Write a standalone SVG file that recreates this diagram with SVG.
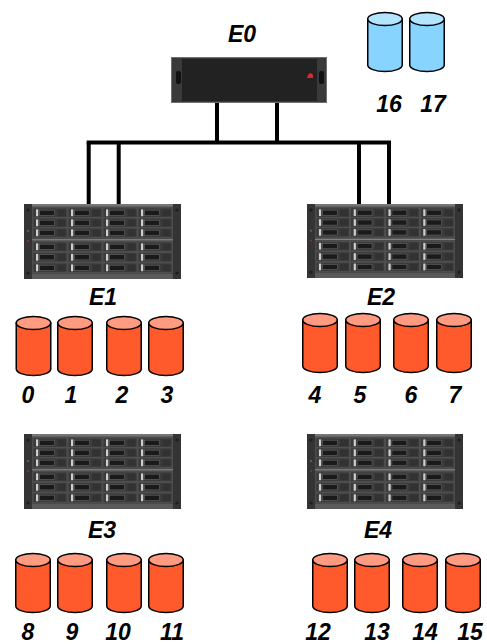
<svg xmlns="http://www.w3.org/2000/svg" width="487" height="644" viewBox="0 0 487 644">
  <style>
    .lbl { font-family: "Liberation Sans", Arial, sans-serif; font-weight: bold; font-style: italic; font-size: 23px; fill: #000; text-anchor: middle; }
    .wire { stroke: #000; stroke-width: 4; fill: none; }
    .cyl { stroke: #000; stroke-width: 1.5; }
  </style>
  <defs>
    <!-- cylinders, 36 x 60 -->
    <g id="cyl-red" class="cyl">
      <path d="M0.75 7 V53 A17.25 6.5 0 0 0 35.25 53 V7 Z" fill="#FF5A2B"/>
      <ellipse cx="18" cy="7" rx="17.25" ry="6.5" fill="#FF9B80"/>
    </g>
    <g id="cyl-blue" class="cyl">
      <path d="M0.75 7 V53 A17.25 6.5 0 0 0 35.25 53 V7 Z" fill="#86D4FF"/>
      <ellipse cx="18" cy="7" rx="17.25" ry="6.5" fill="#B3E5FF"/>
    </g>
    <!-- single drive bay of the disk enclosure -->
    <g id="bay">
      <rect width="34" height="9.5" fill="#3b3b3b" stroke="#565656" stroke-width="0.6"/>
      <rect x="3" y="1.4" width="2.2" height="6.8" fill="#cfcfcf"/>
      <rect x="6.5" y="2.2" width="15" height="5.2" fill="#1a1a1a" stroke="#666" stroke-width="0.6"/>
      <rect x="24.5" y="1.6" width="8" height="6.4" fill="#323232"/>
    </g>
    <g id="bay-row">
      <use href="#bay" x="9"/>
      <use href="#bay" x="44"/>
      <use href="#bay" x="79"/>
      <use href="#bay" x="114"/>
    </g>
    <!-- 4U disk enclosure, 24 bays -->
    <symbol id="enclosure" viewBox="0 0 157 75" preserveAspectRatio="none">
      <rect x="0" y="0" width="157" height="75" fill="#4a4a4a"/>
      <rect x="0" y="0" width="157" height="2.5" fill="#767676"/>
      <rect x="0" y="70" width="157" height="5" fill="#5a5a5a"/>
      <rect x="0" y="0" width="8" height="75" fill="#343434"/>
      <rect x="149" y="0" width="8" height="75" fill="#343434"/>
      <circle cx="4" cy="6" r="1.6" fill="#1e1e1e"/>
      <circle cx="4" cy="69" r="1.6" fill="#1e1e1e"/>
      <circle cx="153" cy="6" r="1.6" fill="#1e1e1e"/>
      <circle cx="153" cy="69" r="1.6" fill="#1e1e1e"/>
      <circle cx="4" cy="27" r="0.9" fill="#4a8a4a"/>
      <circle cx="4" cy="37" r="0.9" fill="#8a3a3a"/>
      <use href="#bay-row" y="4"/>
      <use href="#bay-row" y="14"/>
      <use href="#bay-row" y="24"/>
      <use href="#bay-row" y="38"/>
      <use href="#bay-row" y="48.5"/>
      <use href="#bay-row" y="59"/>
      <line x1="8" y1="35.8" x2="149" y2="35.8" stroke="#8f8f8f" stroke-width="1"/>
    </symbol>
  </defs>

  <rect width="487" height="644" fill="#fff"/>

  <!-- cabling from the head unit to the first two enclosures -->
  <g id="connectors">
    <path class="wire" d="M217 102 V142 M277 102 V142"/>
    <path class="wire" d="M86.7 142.5 H391"/>
    <path class="wire" d="M88.7 142 V204 M118.7 142 V204 M359 142 V204 M389 142 V204"/>
  </g>

  <!-- head unit -->
  <g id="E0">
    <rect x="171" y="57" width="156" height="46" fill="#6f6f6f"/>
    <rect x="172" y="58" width="154" height="44" fill="#3a3a3a"/>
    <rect x="182" y="59" width="135" height="42" fill="#222"/>
    <rect x="176" y="71" width="5" height="13" rx="2" fill="#111"/>
    <rect x="319" y="71" width="5" height="13" rx="2" fill="#111"/>
    <path d="M307 78 L308.5 74 L311 73 L313 75 L313 78 Z" fill="#e0282a"/>
    <text class="lbl" x="242" y="42">E0</text>
  </g>

  <g id="E1">
    <use href="#enclosure" x="24" y="204" width="157" height="75"/>
    <text class="lbl" x="103" y="305">E1</text>
  </g>
  <g id="E2">
    <use href="#enclosure" x="307" y="204" width="156" height="74"/>
    <text class="lbl" x="381" y="305">E2</text>
  </g>
  <g id="E3">
    <use href="#enclosure" x="24" y="434" width="157" height="75"/>
    <text class="lbl" x="102" y="538">E3</text>
  </g>
  <g id="E4">
    <use href="#enclosure" x="307" y="434" width="156" height="75"/>
    <text class="lbl" x="378" y="538">E4</text>
  </g>

  <!-- disks under E1 -->
  <g id="disk0"><use href="#cyl-red" x="15.5" y="316"/><text class="lbl" x="28" y="403">0</text></g>
  <g id="disk1"><use href="#cyl-red" x="57" y="316"/><text class="lbl" x="71" y="403">1</text></g>
  <g id="disk2"><use href="#cyl-red" x="106" y="316"/><text class="lbl" x="122" y="403">2</text></g>
  <g id="disk3"><use href="#cyl-red" x="148" y="316"/><text class="lbl" x="167" y="403">3</text></g>

  <!-- disks under E2 -->
  <g id="disk4"><use href="#cyl-red" x="302" y="313"/><text class="lbl" x="315" y="403">4</text></g>
  <g id="disk5"><use href="#cyl-red" x="345" y="313"/><text class="lbl" x="360" y="403">5</text></g>
  <g id="disk6"><use href="#cyl-red" x="393" y="313"/><text class="lbl" x="411" y="403">6</text></g>
  <g id="disk7"><use href="#cyl-red" x="436" y="313"/><text class="lbl" x="455" y="403">7</text></g>

  <!-- disks under E3 -->
  <g id="disk8"><use href="#cyl-red" x="15" y="553"/><text class="lbl" x="28" y="640">8</text></g>
  <g id="disk9"><use href="#cyl-red" x="57" y="553"/><text class="lbl" x="72" y="640">9</text></g>
  <g id="disk10"><use href="#cyl-red" x="106" y="553"/><text class="lbl" x="118" y="640">10</text></g>
  <g id="disk11"><use href="#cyl-red" x="148" y="553"/><text class="lbl" x="172" y="640">11</text></g>

  <!-- disks under E4 -->
  <g id="disk12"><use href="#cyl-red" x="312" y="553"/><text class="lbl" x="318" y="640">12</text></g>
  <g id="disk13"><use href="#cyl-red" x="354" y="553"/><text class="lbl" x="377" y="640">13</text></g>
  <g id="disk14"><use href="#cyl-red" x="402" y="553"/><text class="lbl" x="425" y="640">14</text></g>
  <g id="disk15"><use href="#cyl-red" x="445" y="553"/><text class="lbl" x="470" y="640">15</text></g>

  <!-- disks in the head unit -->
  <g id="disk16"><use href="#cyl-blue" x="367" y="12"/><text class="lbl" x="389" y="112">16</text></g>
  <g id="disk17"><use href="#cyl-blue" x="409" y="12"/><text class="lbl" x="433" y="112">17</text></g>
</svg>
